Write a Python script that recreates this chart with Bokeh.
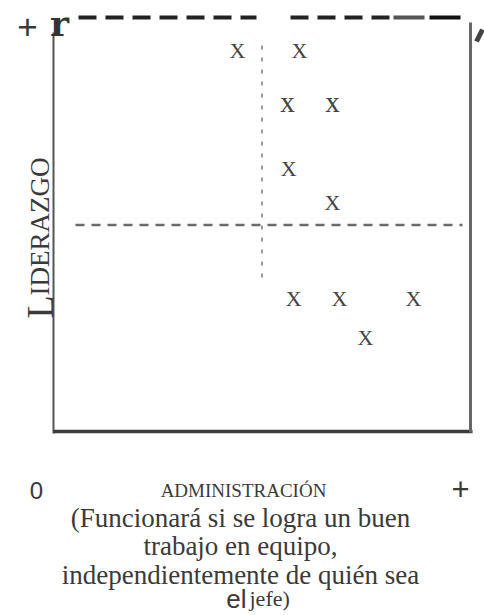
from bokeh.plotting import figure
from bokeh.models import Range1d, Label, ColumnDataSource
from bokeh.core.properties import value
from bokeh.embed import file_html
from bokeh.resources import INLINE
import math

# Positions of each unit on the two scales (0..10)
admin = [4.41, 5.90, 5.61, 6.69, 5.64, 6.69, 5.76, 6.86, 8.63, 7.48]
liderazgo = [9.22, 9.22, 7.97, 7.97, 6.37, 5.54, 3.22, 3.22, 3.22, 2.28]
marks = ["X", "X", "x", "x", "X", "X", "X", "X", "X", "X"]
midpoint = [5.0]

x_axis_title = "ADMINISTRACIÓN"
y_axis_title = ("L", "IDERAZGO")
low_label, high_label = "0", "+"
caption = [
    "(Funcionará si se logra un buen",
    "trabajo en equipo,",
    "independientemente de quién sea",
]
caption_last = ("el", "jefe)")

W, H = 484, 615
# frame box of the grid in canvas pixels
L_PX, R_PX, T_PX, B_PX = 53, 470, 18, 431
SX = (R_PX - L_PX) / 10.0
SY = (B_PX - T_PX) / 10.0


def dx(px):
    return (px - L_PX) / SX


def dy(py):
    return (B_PX - py) / SY


p = figure(width=W, height=H, output_backend="svg", toolbar_location=None,
           x_range=Range1d(dx(0), dx(W)), y_range=Range1d(dy(H), dy(0)),
           min_border=0)
p.axis.visible = False
p.grid.visible = False
p.outline_line_color = None
p.background_fill_color = "white"
p.border_fill_color = "white"

SERIF = "Liberation Serif"
SANS = "Liberation Sans"
INK = "#3a3a3a"

# frame: left axis, bottom axis, right side
p.segment(x0=[0], y0=[dy(32)], x1=[0], y1=[dy(433)], line_color="#555555", line_width=2)
p.segment(x0=[0], y0=[0], x1=[dx(472)], y1=[0], line_color="#3c3c3c", line_width=3.5)
p.segment(x0=[10], y0=[dy(22)], x1=[10], y1=[dy(432)], line_color="#666666", line_width=3)

# dashed top edge
p.line([dx(78), dx(256)], [dy(17), dy(17)], line_color="#222222", line_width=4, line_dash="18 9")
p.line([dx(290), dx(392)], [dy(17), dy(17)], line_color="#222222", line_width=4, line_dash="18 9")
p.segment(x0=[dx(393)], y0=[dy(17)], x1=[dx(424)], y1=[dy(17)], line_color="#555555", line_width=4)
p.segment(x0=[dx(429)], y0=[dy(17)], x1=[dx(460)], y1=[dy(17)], line_color="#111111", line_width=4)
p.segment(x0=[dx(476)], y0=[dy(41)], x1=[dx(482)], y1=[dy(29)], line_color="#444444", line_width=5)

# quadrant guides at the midpoint of both scales
p.line([dx(75), dx(462)], [midpoint[0], midpoint[0]], line_color="#6a6a6a", line_width=2.5, line_dash="9 7")
p.line([midpoint[0], midpoint[0]], [dy(45), dy(285)], line_color="#7a7a7a", line_width=1.5, line_dash="4 8")

# units plotted as letters
src = ColumnDataSource(dict(x=admin, y=liderazgo, t=marks,
                            s=["29px" if m == "x" else "22px" for m in marks]))
p.text(x="x", y="y", text="t", source=src, text_font=value(SERIF), text_font_size="s",
       text_align="center", text_baseline="middle", text_color="#444444")


def label(txt, px, py, font, size, align="center", baseline="middle", angle=0.0,
          color=INK, style="normal"):
    p.add_layout(Label(x=dx(px), y=dy(py), text=txt, text_font=font, text_font_size=size,
                       text_align=align, text_baseline=baseline, angle=angle,
                       text_color=color, text_font_style=style))


# corner glyphs
label("+", 27, 26, SANS, "35px")
label("r", 59, 1, "DejaVu Serif", "36px", baseline="top", color="#333333", style="bold")

# y title in small caps, reading upward
label(y_axis_title[0], 39, 318, SERIF, "38px", align="left", baseline="alphabetic", angle=math.pi / 2)
label(y_axis_title[1], 39, 295, SERIF, "27px", align="left", baseline="alphabetic", angle=math.pi / 2)

# x scale ends and title
label(low_label, 36, 490, SANS, "24px")
label(high_label, 460, 488, SANS, "31px")
label(x_axis_title, 243, 490, SERIF, "19px")

for i, line in enumerate(caption):
    label(line, 240, 517 + i * 28.5, SERIF, "27px")
label(caption_last[0], 246, 598, SANS, "26px", align="right")
label(caption_last[1], 249, 598, SERIF, "22px", align="left")

open("out.html", "w").write(file_html(p, INLINE))
